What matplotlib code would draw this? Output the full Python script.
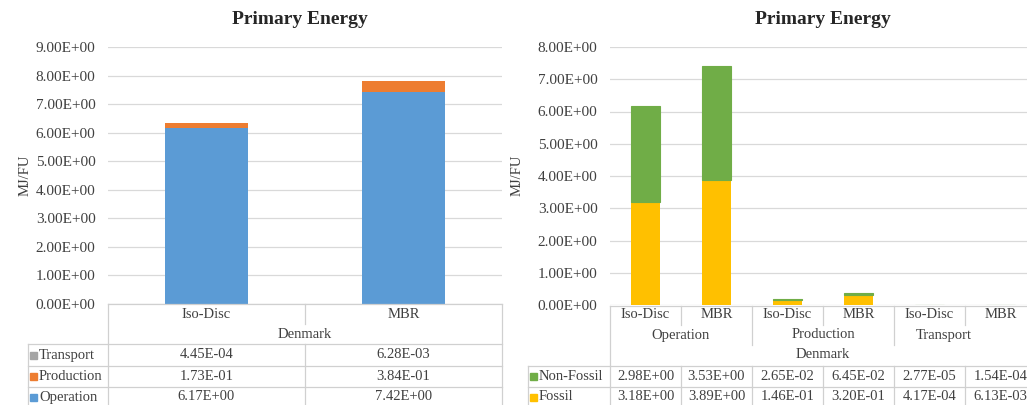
import matplotlib.pyplot as plt
from matplotlib.lines import Line2D
from matplotlib.patches import Rectangle
from matplotlib.transforms import blended_transform_factory

plt.rcParams['font.family'] = ['Liberation Serif', 'DejaVu Serif']

W, H = 1027, 405

# left chart data
left_cats = ['Iso-Disc', 'MBR']
left_group = 'Denmark'
operation = [6.17, 7.42]
production = [0.173, 0.384]
transport = [4.45e-04, 6.28e-03]
left_series = ['Operation', 'Production', 'Transport']
left_labels = {
    'Transport': ['4.45E-04', '6.28E-03'],
    'Production': ['1.73E-01', '3.84E-01'],
    'Operation': ['6.17E+00', '7.42E+00'],
}

# right chart data
right_cats = ['Iso-Disc', 'MBR', 'Iso-Disc', 'MBR', 'Iso-Disc', 'MBR']
right_groups = ['Operation', 'Production', 'Transport']
fossil = [3.18, 3.89, 0.146, 0.320, 4.17e-04, 6.13e-03]
non_fossil = [2.98, 3.53, 2.65e-02, 6.45e-02, 2.77e-05, 1.54e-04]
right_labels = {
    'Non-Fossil': ['2.98E+00', '3.53E+00', '2.65E-02', '6.45E-02', '2.77E-05', '1.54E-04'],
    'Fossil': ['3.18E+00', '3.89E+00', '1.46E-01', '3.20E-01', '4.17E-04', '6.13E-03'],
}

colors = {'Operation': '#5B9BD5', 'Production': '#ED7D31', 'Transport': '#A5A5A5',
          'Fossil': '#FFC000', 'Non-Fossil': '#70AD47'}
grid_c = '#D9D9D9'
line_c = '#D0D0D0'
txt_c = '#404040'
fs = 10.5


def fx(x):
    return x / W


def fy(y):
    return 1 - y / H


def setup_axes(ax, ymax):
    ax.set_ylim(0, ymax)
    ax.set_yticks(range(0, ymax + 1))
    ax.set_yticklabels([f'{v:.2f}E+00' for v in range(0, ymax + 1)], fontsize=11, color=txt_c)
    ax.tick_params(length=0, pad=9)
    ax.set_xticks([])
    for s in ax.spines.values():
        s.set_visible(False)
    ax.grid(axis='y', color=grid_c, lw=0.9)
    ax.set_axisbelow(True)


fig = plt.figure(figsize=(W / 100, H / 100), dpi=100)


def hline(tr, x0, x1_, y):
    fig.add_artist(Line2D([x0, x1_], [fy(y), fy(y)], transform=tr, color=line_c, lw=0.9, clip_on=False))


def vline(tr, x, y0, y1_):
    fig.add_artist(Line2D([x, x], [fy(y0), fy(y1_)], transform=tr, color=line_c, lw=0.9, clip_on=False))


def legend_cell(x, yy, name):
    fig.add_artist(Rectangle((fx(x + 2), fy(yy + 3.5)), fx(7), 7 / H, color=colors[name]))
    fig.text(fx(x + 11), fy(yy), name, ha='left', va='center', fontsize=10.5, color=txt_c)


# ---------------- left chart ----------------
ax1 = fig.add_axes([fx(108), fy(304), fx(394), 257 / H])
setup_axes(ax1, 9)
x1 = list(range(len(left_cats)))
ax1.set_xlim(-0.5, len(left_cats) - 0.5)
bottom = [0, 0]
for name, vals in zip(left_series, [operation, production, transport]):
    ax1.bar(x1, vals, 0.42, bottom=bottom, color=colors[name])
    bottom = [b + v for b, v in zip(bottom, vals)]
fig.text(fx(300), fy(20), 'Primary Energy', ha='center', va='center', fontsize=14, fontweight='bold', color='#262626')
fig.text(fx(25), fy(175), 'MJ/FU', rotation=90, ha='center', va='center', fontsize=fs, color=txt_c)

t1 = blended_transform_factory(ax1.transData, fig.transFigure)
hline(t1, -0.5, 1.5, 304)
for yy in [344, 366, 387]:
    fig.add_artist(Line2D([fx(28), fx(502)], [fy(yy), fy(yy)], color=line_c, lw=0.9))
vline(t1, -0.5, 304, 405)
vline(t1, 1.5, 304, 405)
vline(t1, 0.5, 304, 324)
vline(t1, 0.5, 344, 405)
fig.add_artist(Line2D([fx(28), fx(28)], [fy(344), fy(405)], color=line_c, lw=0.9))
for i, c in enumerate(left_cats):
    fig.text(i, fy(315), c, transform=t1, ha='center', va='center', fontsize=fs, color=txt_c)
fig.text(0.5, fy(334), left_group, transform=t1, ha='center', va='center', fontsize=fs, color=txt_c)
for r, name in enumerate(['Transport', 'Production', 'Operation']):
    yy = 355 + r * 21
    legend_cell(28, yy, name)
    for i, v in enumerate(left_labels[name]):
        fig.text(i, fy(yy), v, transform=t1, ha='center', va='center', fontsize=fs, color=txt_c)

# ---------------- right chart ----------------
ax2 = fig.add_axes([fx(610), fy(305), fx(426), 258 / H])
setup_axes(ax2, 8)
x2 = list(range(len(right_cats)))
ax2.set_xlim(-0.5, len(right_cats) - 0.5)
ax2.bar(x2, fossil, 0.4, color=colors['Fossil'])
ax2.bar(x2, non_fossil, 0.4, bottom=fossil, color=colors['Non-Fossil'],
        edgecolor=colors['Non-Fossil'], linewidth=0.8)
fig.text(fx(823), fy(20), 'Primary Energy', ha='center', va='center', fontsize=14, fontweight='bold', color='#262626')
fig.text(fx(517), fy(175), 'MJ/FU', rotation=90, ha='center', va='center', fontsize=fs, color=txt_c)

t2 = blended_transform_factory(ax2.transData, fig.transFigure)
hline(t2, -0.5, 5.5, 306)
for yy in [366, 387]:
    fig.add_artist(Line2D([fx(528), 1.0], [fy(yy), fy(yy)], color=line_c, lw=0.9))
vline(t2, -0.5, 306, 405)
for k in [0.5, 2.5, 4.5]:
    vline(t2, k, 306, 325)
    vline(t2, k, 366, 405)
for k in [1.5, 3.5]:
    vline(t2, k, 306, 345)
    vline(t2, k, 366, 405)
fig.add_artist(Line2D([fx(528), fx(528)], [fy(366), fy(405)], color=line_c, lw=0.9))
for i, c in enumerate(right_cats):
    fig.text(i, fy(315), c, transform=t2, ha='center', va='center', fontsize=fs, color=txt_c)
# last group label is centred on the visible part of its cell
group_x = [0.5, 2.5, 4.2]
for gx, name in zip(group_x, right_groups):
    fig.text(gx, fy(335), name, transform=t2, ha='center', va='center', fontsize=fs, color=txt_c)
fig.text(2.5, fy(355), left_group, transform=t2, ha='center', va='center', fontsize=fs, color=txt_c)
for r, name in enumerate(['Non-Fossil', 'Fossil']):
    yy = 376 + r * 21
    legend_cell(528, yy, name)
    for i, v in enumerate(right_labels[name]):
        fig.text(i, fy(yy), v, transform=t2, ha='center', va='center', fontsize=fs, color=txt_c)

fig.savefig('out.png', dpi=100)
